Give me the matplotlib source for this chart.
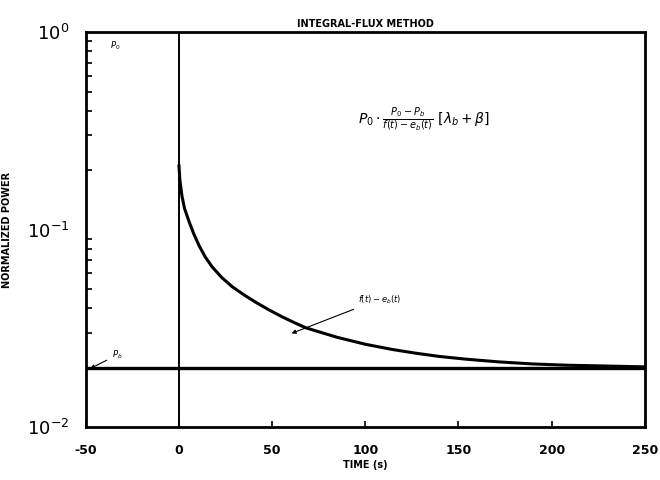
import numpy as np
import matplotlib
matplotlib.use("Agg")
import matplotlib.pyplot as plt

# values
time = [0, 0.5, 1.6, 3, 5.4, 8, 10.8, 14, 17.7, 23, 28.5, 35, 41.4, 48, 55.4, 62, 68.3,
        85, 100, 115, 127, 140, 154, 172, 190, 208, 230, 250]
power = [0.21, 0.178, 0.148, 0.128, 0.110, 0.095, 0.0830, 0.0730, 0.0650, 0.0572, 0.0515,
         0.0467, 0.0428, 0.0394, 0.0362, 0.0338, 0.0318, 0.0285, 0.0263, 0.0247, 0.0237,
         0.0228, 0.0221, 0.0214, 0.0209, 0.0206, 0.0204, 0.0202]
base_level = 0.02
xticks = [-50, 0, 50, 100, 150, 200, 250]
xticklabels = ["-50", "0", "50", "100", "150", "200", "250"]

plt.rcParams['font.family'] = ['DejaVu Sans']

fig = plt.figure(figsize=(6.6, 4.8), dpi=100)
ax = fig.add_axes([0.130, 0.110, 0.847, 0.823])

ax.plot(time, power, color='black', lw=2.2, solid_joinstyle='round')
ax.axhline(base_level, color='black', lw=2.4)
ax.axvline(0, color='black', lw=1.4)

ax.set_yscale('log')
ax.set_xlim(-50, 250)
ax.set_ylim(1e-2, 1e0)
ax.set_xticks(xticks)
ax.set_xticklabels(xticklabels, fontweight='bold')
ax.set_yticks([1e-2, 1e-1, 1e0])
ax.set_yticklabels([r"$10^{-2}$", r"$10^{-1}$", r"$10^{0}$"], fontsize=13)
ax.tick_params(axis='x', direction='in', length=4, width=1.2, labelsize=9, pad=12)
ax.tick_params(axis='y', which='both', direction='in', width=1.2, right=False)
ax.tick_params(axis='y', which='major', length=0, pad=12)
ax.tick_params(axis='y', which='minor', length=4)
for s in ax.spines.values():
    s.set_linewidth(2)

ax.set_title("INTEGRAL-FLUX METHOD", fontsize=7, fontweight='bold', pad=4)
ax.set_xlabel("TIME (s)", fontsize=7, fontweight='bold', labelpad=2)
ax.set_ylabel("NORMALIZED POWER", fontsize=7, fontweight='bold')
ax.yaxis.set_label_coords(-0.132, 0.5)

# annotations
ax.text(-37, 0.83, r"$P_0$", fontsize=6)
ax.annotate(r"$P_b$", xy=(-49, 0.0195), xytext=(-36, 0.0225), fontsize=6,
            arrowprops=dict(arrowstyle='-|>', color='black', lw=0.8))
ax.text(96, 0.36, r"$P_0 \cdot \frac{P_0 - P_b}{f(t) - e_b(t)}\ [\lambda_b + \beta]$",
        fontsize=10, va='center')
ax.annotate(r"$f(t) - e_b(t)$", xy=(59, 0.0295), xytext=(96, 0.043), fontsize=6,
            arrowprops=dict(arrowstyle='-|>', color='black', lw=0.8))

fig.savefig("out.png", dpi=100)
